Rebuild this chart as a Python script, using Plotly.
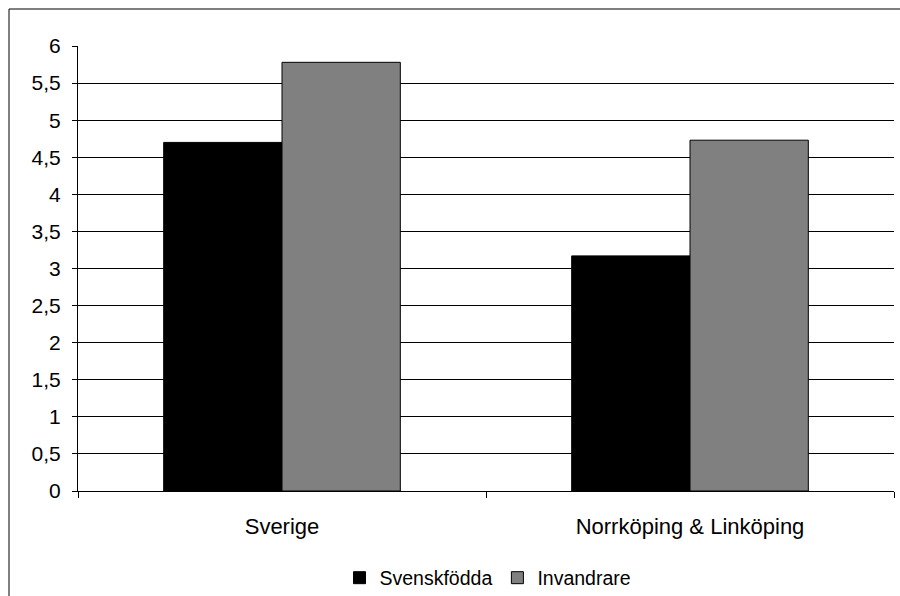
import plotly.graph_objects as go

categories = ["Sverige", "Norrköping & Linköping"]
svenskfodda = [4.70, 3.17]
invandrare = [5.78, 4.73]
series_names = ["Svenskfödda", "Invandrare"]

W, H = 900, 596
ml, mr, mt, mb = 78, 6, 46, 105
pw, ph = W - ml - mr, H - mt - mb

fig = go.Figure()
fig.add_trace(go.Bar(x=categories, y=svenskfodda, name=series_names[0],
                     marker=dict(color="#000000", line=dict(color="#000000", width=1))))
fig.add_trace(go.Bar(x=categories, y=invandrare, name=series_names[1],
                     marker=dict(color="#808080", line=dict(color="#000000", width=1))))

fam = "Liberation Sans, Arial, sans-serif"
font = dict(family=fam, size=21, color="#000000")

fig.update_layout(
    width=W, height=H,
    margin=dict(l=ml, r=mr, t=mt, b=mb, autoexpand=False),
    paper_bgcolor="white", plot_bgcolor="white",
    font=font,
    separators=", ",
    barmode="group", bargap=0.42, bargroupgap=0,
    showlegend=True,
    legend=dict(orientation="h", x=(488 - ml) / pw, xanchor="center",
                y=(491 - 578) / ph, yanchor="middle",
                font=dict(family=fam, size=19.5, color="#000000"),
                itemwidth=30, bgcolor="rgba(0,0,0,0)"),
    xaxis=dict(showline=True, linecolor="#000000", linewidth=1,
               ticks="outside", tickson="boundaries", ticklen=6, tickcolor="#000000",
               ticklabelstandoff=16, tickfont=dict(family=fam, size=22, color="#000000"),
               showgrid=False, zeroline=False),
    yaxis=dict(range=[0, 6], dtick=0.5, tick0=0, showline=True, linecolor="#000000", linewidth=1,
               ticks="outside", ticklen=5, tickcolor="#000000", ticklabelstandoff=7,
               tickfont=dict(family=fam, size=21, color="#000000"),
               showgrid=True, gridcolor="#000000", gridwidth=1, zeroline=False),
    shapes=[dict(type="rect", xref="paper", yref="paper",
                 x0=(9 - ml) / pw, x1=(905 - ml) / pw,
                 y0=(H - mb - 605) / ph, y1=(H - mb - 9) / ph,
                 line=dict(color="#000000", width=1), fillcolor="rgba(0,0,0,0)", layer="below")],
)

fig.write_html("out.html", config={"displayModeBar": False},
               post_script="document.body.style.margin='0';document.body.style.overflow='hidden';")
